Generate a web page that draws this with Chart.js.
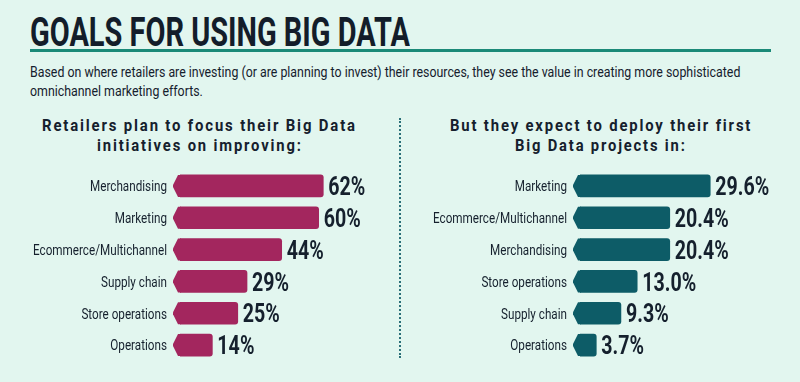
<!DOCTYPE html>
<html><head><meta charset="utf-8">
<script src="https://cdn.jsdelivr.net/npm/chart.js@4"></script>
<style>
html,body{margin:0;padding:0;}
body{width:800px;height:382px;background:#e2f6ef;position:relative;overflow:hidden;font-family:Roboto,"Noto Sans",sans-serif;color:#15202d;}
.t{position:absolute;white-space:nowrap;transform-origin:left top;display:inline-block;}
#title{left:30px;top:13px;font-size:40px;font-weight:bold;line-height:40px;color:#131d2a;}
#rule{position:absolute;left:30px;top:49px;width:741px;height:3px;background:#1b8a78;}
.sub{left:30px;font-size:15px;line-height:19px;}
.h{font-size:16px;font-weight:bold;letter-spacing:2px;line-height:20px;}
#dots{position:absolute;left:399px;top:118px;height:240px;border-left:2px dotted #2a6f78;}
canvas{position:absolute;top:170px;}
</style></head><body>
<div id="title" class="t" data-w="380">GOALS FOR USING BIG DATA</div>
<div id="rule"></div>
<div class="t sub" style="top:63px" data-w="710" data-g="s">Based on where retailers are investing (or are planning to invest) their resources, they see the value in creating more sophisticated</div>
<div class="t sub" style="top:82px" data-g="s">omnichannel marketing efforts.</div>
<div class="t h" style="left:42px;top:116px" data-w="315">Retailers plan to focus their Big Data</div>
<div class="t h" style="left:97px;top:136px" data-w="206">initiatives on improving:</div>
<div class="t h" style="left:450px;top:116px" data-w="302">But they expect to deploy their first</div>
<div class="t h" style="left:515px;top:136px" data-w="172">Big Data projects in:</div>
<div id="dots"></div>
<canvas id="cl" width="400" height="191" style="left:0"></canvas>
<canvas id="cr" width="400" height="191" style="left:400px"></canvas>
<script>
const focusCategories = ["Merchandising","Marketing","Ecommerce/Multichannel","Supply chain","Store operations","Operations"];
const focusValues = [62,60,44,29,25,14];
const deployCategories = ["Marketing","Ecommerce/Multichannel","Merchandising","Store operations","Supply chain","Operations"];
const deployValues = [29.6,20.4,20.4,13.0,9.3,3.7];

// horizontally condense HTML text lines to their target widths
let groupScale = {};
document.querySelectorAll('.t').forEach(el => {
  if (el.dataset.w) {
    const s = (+el.dataset.w) / el.offsetWidth;
    el.style.transform = 'scaleX(' + s + ')';
    if (el.dataset.g) groupScale[el.dataset.g] = s;
  }
});
document.querySelectorAll('.t').forEach(el => {
  if (!el.dataset.w && el.dataset.g) el.style.transform = 'scaleX(' + groupScale[el.dataset.g] + ')';
});

const FONT = 'Roboto,"Noto Sans",sans-serif';

const arrowPlugin = {
  id: 'arrowTip',
  afterDatasetsDraw(chart, args, opts) {
    const ctx = chart.ctx;
    const meta = chart.getDatasetMeta(0);
    const yScale = chart.scales.y;
    ctx.save();
    // category label condensation factor
    ctx.font = '15px ' + FONT;
    const labScale = 134 / ctx.measureText('Ecommerce/Multichannel').width;
    ctx.font = 'bold 26px ' + FONT;
    const valScale = 54 / ctx.measureText('29.6%').width;
    meta.data.forEach((bar, i) => {
      const h = bar.height, top = bar.y - h/2, bot = bar.y + h/2, b = bar.base;
      ctx.fillStyle = opts.color;
      ctx.beginPath();
      ctx.moveTo(b + 1, top);
      ctx.lineTo(b - 2, top);
      ctx.lineTo(b - 7, bar.y - 1);
      ctx.lineTo(b - 7, bar.y + 1);
      ctx.lineTo(b - 2, bot);
      ctx.lineTo(b + 1, bot);
      ctx.closePath();
      ctx.fill();
      // value label
      const v = chart.data.datasets[0].data[i];
      ctx.fillStyle = '#15202d';
      ctx.font = 'bold 26px ' + FONT;
      ctx.textAlign = 'left';
      ctx.textBaseline = 'alphabetic';
      ctx.save();
      ctx.translate(bar.x + 5, bar.y + 9.2);
      ctx.scale(valScale, 1);
      ctx.fillText(v.toFixed(opts.decimals) + '%', 0, 0);
      ctx.restore();
      // category label
      const ly = yScale.getPixelForTick(i);
      ctx.font = '15px ' + FONT;
      ctx.textAlign = 'right';
      ctx.save();
      ctx.translate(b - 13, ly + 5.3);
      ctx.scale(labScale, 1);
      ctx.fillText(chart.data.labels[i], 0, 0);
      ctx.restore();
    });
    ctx.restore();
  }
};

function make(id, labels, values, color, max, padRight, decimals) {
  return new Chart(document.getElementById(id), {
    type: 'bar',
    data: { labels, datasets: [{ data: values, backgroundColor: color, barThickness: 22,
      borderRadius: {topLeft:0,bottomLeft:0,topRight:3,bottomRight:3}, borderSkipped: false }] },
    options: {
      indexAxis: 'y', responsive: false, animation: false,
      layout: { padding: { left: 0, right: padRight, top: 0, bottom: 0 } },
      plugins: { legend: { display: false }, tooltip: { enabled: false }, arrowTip: { color, decimals } },
      scales: {
        x: { display: false, min: 0, max },
        y: { grid: { display: false }, border: { display: false },
             ticks: { display: false },
             afterFit(s) { s.width = 180; } }
      }
    },
    plugins: [arrowPlugin]
  });
}
make('cl', focusCategories, focusValues, '#a3265e', 90, 12, 0);
make('cr', deployCategories, deployValues, '#0d5c67', 45, 22, 1);
</script>
</body></html>
